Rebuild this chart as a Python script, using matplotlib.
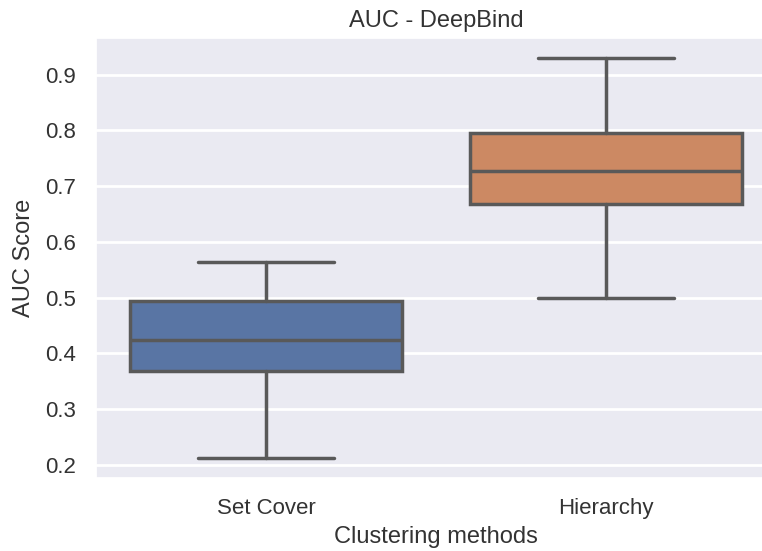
import matplotlib
matplotlib.use("Agg")
import matplotlib.pyplot as plt
import seaborn as sns

# Box summaries of AUC per clustering method
methods = ["Set Cover", "Hierarchy"]
whisker_low = [0.212, 0.500]
q1 = [0.369, 0.668]
median = [0.424, 0.727]
q3 = [0.494, 0.796]
whisker_high = [0.563, 0.930]

sns.set_theme(style="darkgrid")
plt.rcParams["font.family"] = ["Liberation Sans", "DejaVu Sans"]

stats = []
for i, name in enumerate(methods):
    stats.append({"label": name, "whislo": whisker_low[i], "q1": q1[i],
                  "med": median[i], "q3": q3[i], "whishi": whisker_high[i],
                  "fliers": []})

colors = [sns.desaturate(c, 0.75) for c in sns.color_palette("deep")[:2]]
line_col = "#595959"

fig = plt.figure(figsize=(7.62, 5.51), dpi=100)
# axes runs a little past the right edge of the canvas
ax = fig.add_axes([0.126, 0.1325, 0.8924, 0.7985])
bp = ax.bxp(stats, positions=[0, 1], widths=0.8, patch_artist=True,
            showfliers=False,
            boxprops=dict(edgecolor=line_col, linewidth=2.5),
            medianprops=dict(color=line_col, linewidth=2.5),
            whiskerprops=dict(color=line_col, linewidth=2.5),
            capprops=dict(color=line_col, linewidth=2.5))
for patch, c in zip(bp["boxes"], colors):
    patch.set_facecolor(c)
for cap in bp["caps"]:
    x0, x1 = cap.get_xdata()
    mid = (x0 + x1) / 2
    cap.set_xdata([mid - 0.2, mid + 0.2])

ax.set_xlim(-0.5, 1.5)
ax.set_xticks([0, 1])
ax.set_xticklabels(methods)
ax.tick_params(labelsize=16, colors="#333333", pad=8.5)
ax.set_xlabel("Clustering methods", fontsize=17, color="#333333", labelpad=5)
ax.set_ylabel("AUC Score", fontsize=17, color="#333333", labelpad=7)
ax.set_title("AUC - DeepBind", fontsize=17, color="#333333", pad=8)
ax.grid(True, axis="y", color="white", linewidth=2)
ax.grid(False, axis="x")

fig.savefig("out.png", dpi=100)
